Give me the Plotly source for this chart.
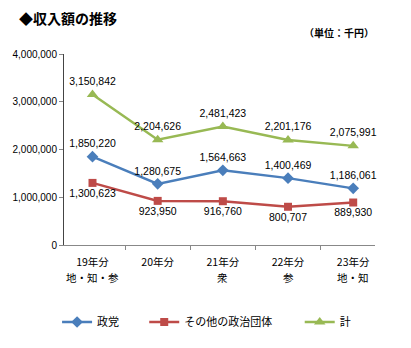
import plotly.graph_objects as go

categories = ["19年分", "20年分", "21年分", "22年分", "23年分"]
sublabels = ["地・知・参", "", "衆", "参", "地・知"]
seito = [1850220, 1280675, 1564663, 1400469, 1186061]
sonota = [1300623, 923950, 916760, 800707, 889930]
kei = [3150842, 2204626, 2481423, 2201176, 2075991]
yticks = [0, 1000000, 2000000, 3000000, 4000000]

FONT = "Arial, 'Liberation Sans', 'Noto Sans CJK JP', sans-serif"
JFONT = "'Noto Sans CJK JP', sans-serif"

def lbl(vals):
    return [f"{v:,}" for v in vals]

fig = go.Figure()
fig.add_trace(go.Scatter(
    x=categories, y=seito, name="政党", mode="lines+markers+text",
    line=dict(color="#4A7EBB", width=2.5),
    marker=dict(symbol="diamond", size=9, color="#4A7EBB"),
    text=lbl(seito), textposition="top center",
    textfont=dict(size=10.5, color="#000000", family=FONT),
    legend="legend", cliponaxis=False))
fig.add_trace(go.Scatter(
    x=categories, y=sonota, name="その他の政治団体", mode="lines+markers+text",
    line=dict(color="#BE4B48", width=2.5),
    marker=dict(symbol="square", size=8, color="#BE4B48"),
    text=lbl(sonota), textposition="bottom center",
    textfont=dict(size=10.5, color="#000000", family=FONT),
    legend="legend2", cliponaxis=False))
fig.add_trace(go.Scatter(
    x=categories, y=kei, name="計", mode="lines+markers+text",
    line=dict(color="#98B954", width=2.5),
    marker=dict(symbol="triangle-up", size=10, color="#98B954"),
    text=lbl(kei), textposition="top center",
    textfont=dict(size=10.5, color="#000000", family=FONT),
    legend="legend3", cliponaxis=False))

W, H = 411, 348
L, R, T, B = 61, 36, 54, 103
pw, ph = W - L - R, H - T - B

def px(x):
    return (x - L) / pw

def py(y):
    return (H - B - y) / ph

leg_common = dict(orientation="h", yanchor="middle", xanchor="left",
                  font=dict(size=11, family=JFONT, color="#000000"),
                  bgcolor="rgba(0,0,0,0)", itemwidth=30)

annotations = [
    dict(text="<b>◆収入額の推移</b>", xref="paper", yref="paper",
         x=px(14), y=py(18), xanchor="left", yanchor="middle", showarrow=False,
         font=dict(size=14, family=JFONT, color="#000000")),
    dict(text="<b>（単位：千円）</b>", xref="paper", yref="paper",
         x=px(376), y=py(33), xanchor="right", yanchor="middle", showarrow=False,
         font=dict(size=10, family=JFONT, color="#000000")),
]
for c, s in zip(categories, sublabels):
    if s:
        annotations.append(dict(text=s, xref="x", yref="paper", x=c, y=py(277),
                                xanchor="center", yanchor="middle", showarrow=False,
                                font=dict(size=10.5, family=JFONT, color="#000000")))

fig.update_layout(
    width=W, height=H,
    margin=dict(l=L, r=R, t=T, b=B),
    paper_bgcolor="white", plot_bgcolor="white",
    showlegend=True,
    legend=dict(x=px(54), y=py(322), **leg_common),
    legend2=dict(x=px(142), y=py(322), **leg_common),
    legend3=dict(x=px(299), y=py(322), **leg_common),
    xaxis=dict(
        showline=True, linecolor="#888888", linewidth=1,
        ticks="outside", tickson="boundaries", ticklen=4, tickcolor="#888888",
        ticklabelstandoff=7,
        tickfont=dict(size=10.5, family=JFONT, color="#000000"),
        showgrid=False, zeroline=False,
    ),
    yaxis=dict(
        range=[0, 4000000], tickvals=yticks, tickformat=",d",
        showline=True, linecolor="#444444", linewidth=1,
        ticks="outside", ticklen=4, tickcolor="#888888",
        tickfont=dict(size=10, family=FONT, color="#000000"),
        showgrid=False, zeroline=False,
    ),
    annotations=annotations,
)

fig.write_html("out.html")
